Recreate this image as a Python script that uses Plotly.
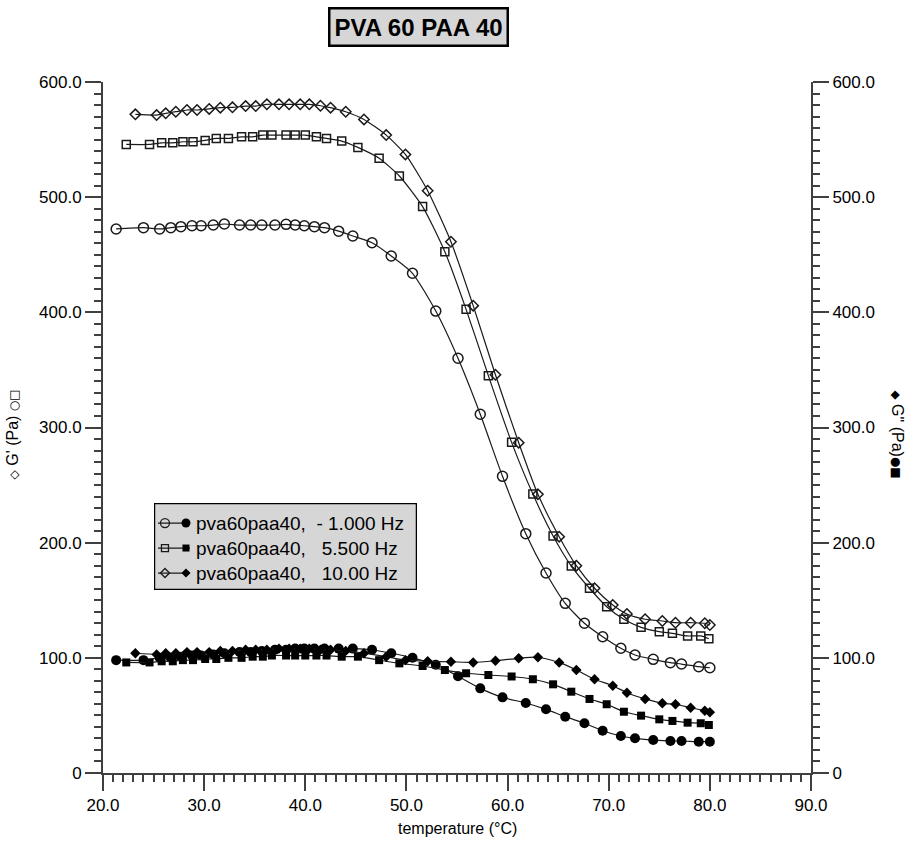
import plotly.graph_objects as go

# Temperature sweep, PVA 60 / PAA 40 blend, three frequencies
temp_1hz = [21.3, 24.0, 25.6, 26.7, 27.7, 28.8, 29.7, 30.9, 32.0, 33.5, 34.6, 35.7, 37.0,
            38.1, 39.0, 39.9, 40.9, 41.9, 43.3, 44.7, 46.6, 48.5, 50.6, 52.9, 55.1, 57.3,
            59.5, 61.8, 63.8, 65.7, 67.6, 69.4, 71.2, 72.6, 74.4, 76.1, 77.2, 78.9, 80.0]
gp_1hz = [472.4, 473.5, 472.4, 473.5, 474.4, 475.2, 475.2, 475.8, 476.7, 475.8, 475.8, 475.8,
          475.8, 476.4, 475.8, 475.2, 474.4, 473.5, 470.5, 466.3, 460.4, 448.9, 433.9, 401.1,
          360.1, 311.5, 257.6, 207.8, 173.7, 147.3, 130.0, 118.3, 108.3, 102.5, 98.7, 95.8,
          94.6, 92.3, 91.4]
gpp_1hz = [98, 98, 100, 100, 101, 102, 102, 103, 104, 105, 105, 106, 107, 107, 108, 108, 108,
           108, 108, 108, 107, 104, 100, 94, 84, 73.5, 65.7, 60.8, 55.3, 48.9, 43.2, 36.7,
           32.1, 30.1, 28.7, 27.8, 27.8, 27.2, 27.2]

temp_5hz = [22.3, 24.6, 25.8, 26.9, 27.9, 28.9, 30.1, 31.2, 32.4, 33.7, 34.8, 35.8, 36.7,
            38.1, 39.0, 40.0, 41.1, 42.1, 43.6, 45.2, 47.3, 49.3, 51.6, 53.8, 55.9, 58.1,
            60.4, 62.5, 64.5, 66.3, 68.1, 69.8, 71.5, 73.2, 75.0, 76.3, 77.8, 79.1, 79.9]
gp_5hz = [545.8, 545.8, 547.2, 547.2, 548.1, 548.1, 549.3, 551.0, 551.0, 552.4, 552.4, 553.9,
          553.9, 553.9, 553.9, 553.9, 552.4, 551.0, 548.7, 543.2, 533.8, 518.4, 491.8, 452.6,
          402.6, 345.0, 287.1, 242.2, 205.8, 179.7, 160.4, 144.4, 133.5, 126.5, 122.7, 121.3,
          119.0, 119.0, 116.6]
gpp_5hz = [96, 96, 97, 97, 98, 98, 99, 99, 100, 100, 101, 101, 102, 102, 102, 102, 102, 102,
           101, 101, 98, 95.2, 92.9, 89.4, 86.6, 85.1, 83.8, 81.4, 77.0, 70.6, 64.3, 59.7,
           53.2, 49.8, 46.6, 45.2, 43.7, 43.2, 41.7]

temp_10hz = [23.2, 25.3, 26.2, 27.2, 28.3, 29.3, 30.5, 31.6, 32.8, 34.1, 35.1, 36.2, 37.4,
             38.4, 39.5, 40.4, 41.5, 42.5, 44.0, 45.8, 48.0, 49.9, 52.1, 54.4, 56.6, 58.8,
             61.1, 63.0, 65.1, 66.8, 68.6, 70.4, 71.8, 73.6, 75.3, 76.6, 78.1, 79.5, 80.0]
gp_10hz = [571.9, 571.3, 572.8, 574.2, 575.7, 575.7, 576.6, 577.7, 578.0, 579.1, 579.1, 580.6,
           580.6, 580.6, 580.6, 580.6, 579.4, 577.7, 574.2, 567.5, 553.9, 537.1, 505.6, 461.3,
           405.8, 345.8, 286.8, 242.0, 205.2, 180.0, 160.4, 145.9, 138.1, 133.5, 132.0, 130.5,
           130.5, 130.0, 128.5]
gpp_10hz = [104, 103, 104, 104, 105, 105, 105, 106, 106, 107, 107, 107, 108, 108, 108, 108,
            107, 107, 106, 104, 101, 98, 97, 96.6, 96, 97.5, 99.6, 100.5, 96, 89.4, 81.4,
            75.8, 69.7, 64.3, 60.5, 59.7, 56.7, 54.1, 52.7]

series_labels = ["pva60paa40,\u00a0\u00a0- 1.000 Hz",
                 "pva60paa40,\u00a0\u00a0\u00a05.500 Hz",
                 "pva60paa40,\u00a0\u00a0\u00a010.00 Hz"]
x_ticks = [20, 30, 40, 50, 60, 70, 80, 90]
x_ticktext = ["20.0", "30.0", "40.0", "50.0", "60.0", "70.0", "80.0", "90.0"]
y_ticks = [0, 100, 200, 300, 400, 500, 600]
y_ticktext = ["0", "100.0", "200.0", "300.0", "400.0", "500.0", "600.0"]

FONT = "Liberation Sans, Arial, DejaVu Sans, sans-serif"
SYM = "<span style='font-family:DejaVu Sans;font-size:12px'>{}</span>"
INK = "#1a1a1a"
AXIS = "#404040"

series = [
    (temp_1hz, gp_1hz, gpp_1hz, "circle", 10),
    (temp_5hz, gp_5hz, gpp_5hz, "square", 8),
    (temp_10hz, gp_10hz, gpp_10hz, "diamond", 8),
]

fig = go.Figure()
for t, gp, gpp, sym, size in series:
    fig.add_trace(go.Scatter(
        x=t, y=gp, mode="lines+markers", yaxis="y",
        line=dict(color=INK, width=1.2, shape="spline", smoothing=0.6),
        marker=dict(symbol=sym + "-open", size=size, color=INK, line=dict(width=1.5)),
        showlegend=False, hoverinfo="skip"))
    fig.add_trace(go.Scatter(
        x=t, y=gpp, mode="lines+markers", yaxis="y2",
        line=dict(color=INK, width=1.2, shape="spline", smoothing=0.6),
        marker=dict(symbol=sym, size=size, color="black"),
        showlegend=False, hoverinfo="skip"))

# Legend panel drawn on its own small axes
leg_rows = [20, 45, 70]
for row, (_, _, _, sym, size), label in zip(leg_rows, series, series_labels):
    fig.add_trace(go.Scatter(
        x=[4, 36], y=[row, row], mode="lines", xaxis="x3", yaxis="y3",
        line=dict(color=INK, width=1.2), showlegend=False, hoverinfo="skip"))
    fig.add_trace(go.Scatter(
        x=[11], y=[row], mode="markers", xaxis="x3", yaxis="y3",
        marker=dict(symbol=sym + "-open", size=size - 1, color=INK, line=dict(width=1.3)),
        showlegend=False, hoverinfo="skip"))
    fig.add_trace(go.Scatter(
        x=[32], y=[row], mode="markers", xaxis="x3", yaxis="y3",
        marker=dict(symbol=sym, size=size - 1, color="black"),
        showlegend=False, hoverinfo="skip"))
    fig.add_annotation(x=40, y=row, xref="x3", yref="y3", text=label, showarrow=False,
                       xanchor="left", yanchor="middle",
                       font=dict(family=FONT, size=19, color="black"))

fig.add_shape(type="rect", xref="x3", yref="y3", x0=0, x1=263, y0=0, y1=87,
              line=dict(color="black", width=2.5), fillcolor="#d6d6d6", layer="below")

axis_common = dict(showgrid=False, zeroline=False, showline=True, linecolor=AXIS, linewidth=2,
                   ticks="outside", ticklen=16, tickwidth=2, tickcolor=AXIS, automargin=False,
                   tickfont=dict(family=FONT, size=17, color="black"))

fig.update_layout(
    width=912, height=842,
    margin=dict(l=103, r=101, t=82, b=69),
    paper_bgcolor="white", plot_bgcolor="rgba(0,0,0,0)",
    xaxis=dict(range=[20, 90], tickvals=x_ticks, ticktext=x_ticktext,
               minor=dict(dtick=1, ticks="outside", ticklen=7, tickwidth=1.5, tickcolor=AXIS),
               **axis_common),
    yaxis=dict(range=[0, 600], tickvals=y_ticks, ticktext=y_ticktext,
               minor=dict(dtick=10, ticks="outside", ticklen=7, tickwidth=1.5, tickcolor=AXIS),
               **axis_common),
    yaxis2=dict(range=[0, 600], tickvals=y_ticks, ticktext=y_ticktext, overlaying="y",
                side="right",
                minor=dict(dtick=10, ticks="outside", ticklen=7, tickwidth=1.5, tickcolor=AXIS),
                **axis_common),
    xaxis3=dict(domain=[0.0720, 0.4435], range=[0, 263], visible=False, anchor="y3",
                fixedrange=True),
    yaxis3=dict(domain=[0.2648, 0.3907], range=[87, 0], visible=False, anchor="x3",
                fixedrange=True),
)

fig.add_annotation(text="<b>PVA 60 PAA 40</b>", xref="paper", yref="paper", x=0.445, y=1.0796,
                   xanchor="center", yanchor="middle", showarrow=False,
                   font=dict(family=FONT, size=24, color="black"),
                   bgcolor="#d6d6d6", bordercolor="black", borderwidth=2.5, borderpad=4)
fig.add_annotation(text="temperature (°C)", xref="paper", yref="paper", x=0.5, y=-0.081,
                   xanchor="center", yanchor="middle", showarrow=False,
                   font=dict(family=FONT, size=16, color="black"))
fig.add_annotation(text=SYM.format("\u25c7") + " G' (Pa) " + SYM.format("\u25cb\u25a1"),
                   xref="paper", yref="paper", x=-0.1285,
                   y=0.49, textangle=-90, showarrow=False, xanchor="center", yanchor="middle",
                   font=dict(family=FONT, size=16, color="black"))
fig.add_annotation(text=SYM.format("\u25c6") + " G\" (Pa)" + SYM.format("\u25cf\u25a0"),
                   xref="paper", yref="paper", x=1.1229,
                   y=0.49, textangle=90, showarrow=False, xanchor="center", yanchor="middle",
                   font=dict(family=FONT, size=16, color="black"))

fig.write_html("out.html")
